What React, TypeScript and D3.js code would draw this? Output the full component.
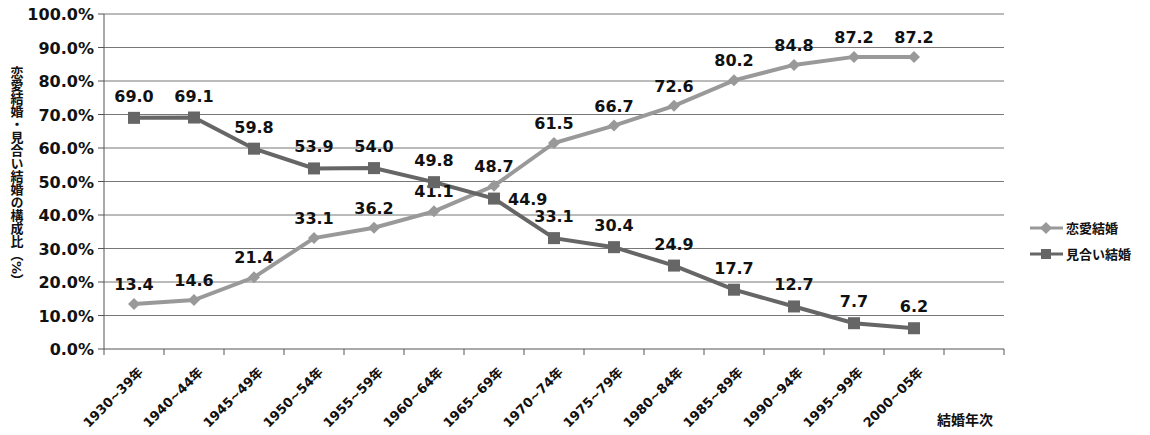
import * as d3 from "d3";

const categories = ["1930~39年", "1940~44年", "1945~49年", "1950~54年", "1955~59年", "1960~64年", "1965~69年", "1970~74年", "1975~79年", "1980~84年", "1985~89年", "1990~94年", "1995~99年", "2000~05年", ""];
const renai = [13.4, 14.6, 21.4, 33.1, 36.2, 41.1, 48.7, 61.5, 66.7, 72.6, 80.2, 84.8, 87.2, 87.2];
const miai = [69.0, 69.1, 59.8, 53.9, 54.0, 49.8, 44.9, 33.1, 30.4, 24.9, 17.7, 12.7, 7.7, 6.2];
const yTicks = [0, 10, 20, 30, 40, 50, 60, 70, 80, 90, 100];

const W = 1150, H = 435;
const L = 104, R = 1004, T = 14, B = 349;
const font = "'DejaVu Sans', 'Noto Sans CJK JP', sans-serif";

export default function App() {
  const x = d3.scaleBand().domain(categories.map((c, i) => String(i))).range([L, R]);
  const y = d3.scaleLinear().domain([0, 100]).range([B, T]);
  const cx = (i: number) => (x(String(i)) ?? 0) + x.bandwidth() / 2;
  const line = d3.line<number>().x((_, i) => cx(i)).y((d) => y(d));
  const bounds = [...categories.map((_, i) => x(String(i)) ?? 0), R];

  return (
    <svg width={W} height={H} style={{ position: "absolute", left: 0, top: 0, fontFamily: font, fontWeight: "bold" }}>
      <rect width={W} height={H} fill="#fff" />
      {yTicks.map((t) => (
        <g key={t}>
          {t > 0 && <line x1={L} x2={R} y1={y(t)} y2={y(t)} stroke="#777" strokeWidth={1} />}
          <line x1={L - 6} x2={L} y1={y(t)} y2={y(t)} stroke="#555" />
          <text x={L - 10} y={y(t) + 6} textAnchor="end" fontSize={16} fill="#111">{t.toFixed(1)}%</text>
        </g>
      ))}
      <line x1={L} x2={L} y1={T} y2={B} stroke="#555" />
      <line x1={L} x2={R} y1={B} y2={B} stroke="#555" />
      {bounds.map((b, i) => (
        <line key={i} x1={b} x2={b} y1={B} y2={B + 6} stroke="#555" />
      ))}
      {categories.map((c, i) =>
        c ? (
          <text key={i} transform={`translate(${cx(i) + 10},${B + 24}) rotate(-45)`} textAnchor="end" fontSize={13} fill="#111">{c}</text>
        ) : null
      )}
      <path d={line(renai) ?? ""} fill="none" stroke="#999" strokeWidth={4} />
      <path d={line(miai) ?? ""} fill="none" stroke="#666" strokeWidth={4} />
      {renai.map((v, i) => (
        <g key={"r" + i}>
          <path d={`M${cx(i)},${y(v) - 6}l6,6l-6,6l-6,-6z`} fill="#999" />
          <text x={cx(i)} y={y(v) - 14} textAnchor="middle" fontSize={16} fill="#111">{v.toFixed(1)}</text>
        </g>
      ))}
      {miai.map((v, i) => (
        <g key={"m" + i}>
          <rect x={cx(i) - 6} y={y(v) - 6} width={12} height={12} fill="#666" />
          {i === 6 ? (
            <text x={cx(i) + 14} y={y(v) + 6} textAnchor="start" fontSize={16} fill="#111">{v.toFixed(1)}</text>
          ) : (
            <text x={cx(i)} y={y(v) - 16} textAnchor="middle" fontSize={16} fill="#111">{v.toFixed(1)}</text>
          )}
        </g>
      ))}
      <g>
        <line x1={1030} x2={1063} y1={228} y2={228} stroke="#999" strokeWidth={3} />
        <path d="M1046,222l6,6l-6,6l-6,-6z" fill="#999" />
        <text x={1066} y={233} fontSize={13} fill="#111">恋愛結婚</text>
        <line x1={1030} x2={1063} y1={254} y2={254} stroke="#666" strokeWidth={3} />
        <rect x={1041} y={249} width={10} height={10} fill="#666" />
        <text x={1066} y={259} fontSize={13} fill="#111">見合い結婚</text>
      </g>
      <text x={937} y={425} fontSize={14} fill="#111">結婚年次</text>
      <text x={16} y={66} fontSize={13} fill="#111" style={{ writingMode: "vertical-rl" } as any}>恋愛結婚・見合い結婚の構成比（%）</text>
    </svg>
  );
}
